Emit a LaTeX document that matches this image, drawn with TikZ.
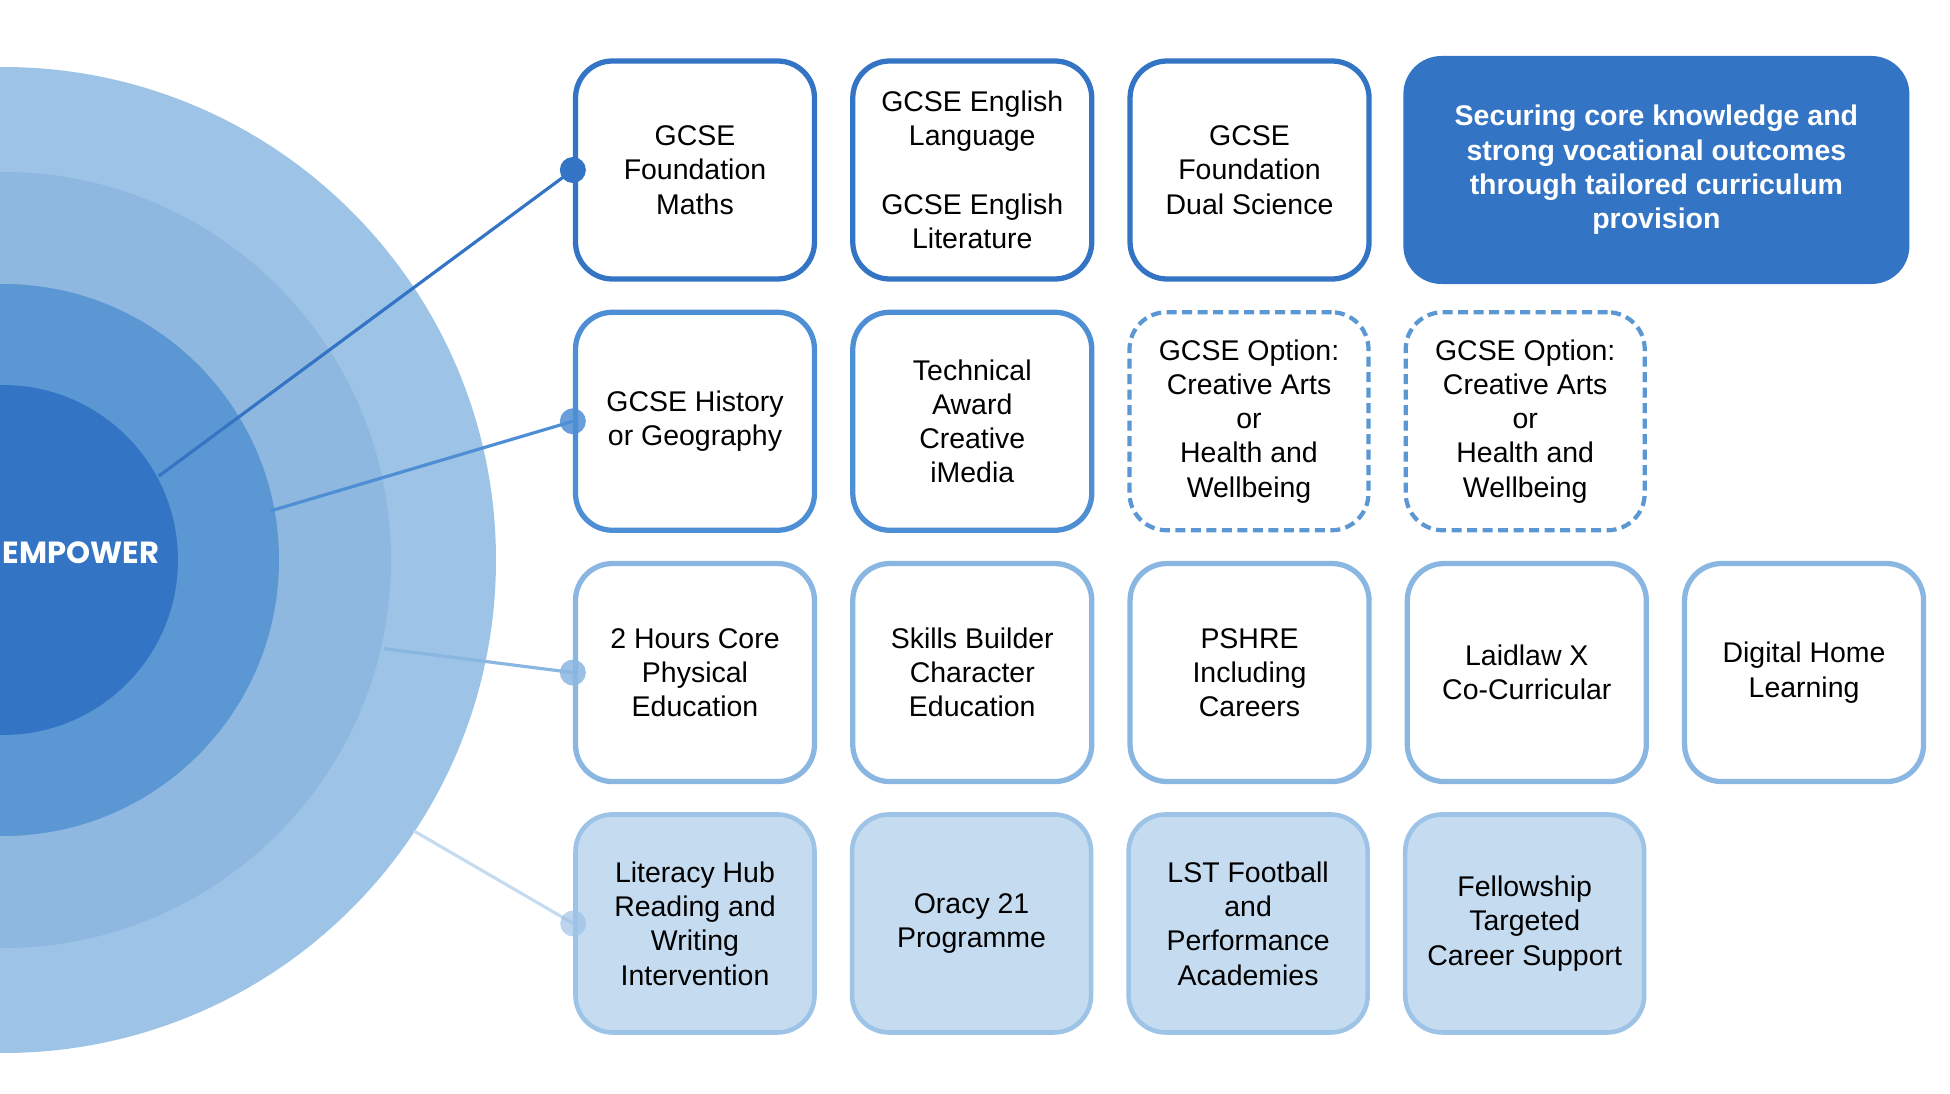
\documentclass[tikz,border=0pt]{standalone}
\usepackage{fontspec}
\setmainfont{Liberation Sans}
\newfontfamily\brandfont{Poppins}
\usetikzlibrary{positioning,calc}
\definecolor{deep}{HTML}{3374C4}
\definecolor{mid}{HTML}{5B97D3}
\definecolor{soft}{HTML}{8EB8DF}
\definecolor{pale}{HTML}{9DC3E6}
\definecolor{wash}{HTML}{C5DBF0}
\definecolor{rowtwo}{HTML}{4E8ED4}
\definecolor{rowthree}{HTML}{8AB6E2}

\begin{document}
\begin{tikzpicture}[font={\fontsize{8.1}{9.75}\selectfont},
  node distance=2.8mm and 3.3mm,
  tile/.style={draw, fill=white, rounded corners=3.7mm, line width=1.5pt,
    minimum width=23.9mm, minimum height=21.8mm, align=center, inner sep=1pt},
  core/.style={tile, draw=deep},
  option/.style={tile, draw=rowtwo},
  choice/.style={tile, draw=mid, line width=1.2pt, dash pattern=on 1mm off 0.55mm},
  wider/.style={tile, draw=rowthree},
  support/.style={tile, draw=pale, fill=wash, line width=1.3pt},
  goal/.style={fill=deep, text=white, rounded corners=3.8mm, minimum width=50.6mm,
    minimum height=22.8mm, align=center, font={\fontsize{8.1}{9.75}\selectfont\bfseries}},
  link/.style={line width=0.9pt}]
  \useasboundingbox (0,0) rectangle (19.5,-10.94);

  % target rings
  \coordinate (hub) at (0.03,-5.60);
  \fill[pale] (hub) circle (4.93);
  \fill[soft] (hub) circle (3.88);
  \fill[mid]  (hub) circle (2.76);
  \fill[deep] (hub) circle (1.75);
  \node[text=white, anchor=west, inner sep=0pt, font={\brandfont\bfseries\fontsize{8.7}{10}\selectfont}]
    (empower) at (0.02,-5.53) {EMPOWER};

  % row 1
  \node[core] (maths) at (6.95,-1.70) {GCSE\\Foundation\\Maths};
  \node[core, right=of maths]   (english) {GCSE English\\Language\\[9.75pt]GCSE English\\Literature};
  \node[core, right=of english] (science) {GCSE\\Foundation\\Dual Science};
  \node[goal, right=3.1mm of science] (aim) {Securing core knowledge and\\strong vocational outcomes\\through tailored curriculum\\provision};

  % row 2
  \node[option, below=of maths]  (history) {GCSE History\\or Geography};
  \node[option, right=of history] (imedia) {Technical\\Award\\Creative\\iMedia};
  \node[choice, right=of imedia]  (optone) {GCSE Option:\\Creative Arts\\or\\Health and\\Wellbeing};
  \node[choice, right=of optone]  (opttwo) {GCSE Option:\\Creative Arts\\or\\Health and\\Wellbeing};

  % row 3
  \node[wider, below=of history]  (pe)      {2 Hours Core\\Physical\\Education};
  \node[wider, right=of pe]       (skills)  {Skills Builder\\Character\\Education};
  \node[wider, right=of skills]   (pshre)   {PSHRE\\Including\\Careers};
  \node[wider, right=of pshre]    (laidlaw) {Laidlaw X\\Co-Curricular};
  \node[wider, right=of laidlaw]  (digital) {Digital Home\\Learning};

  % row 4
  \node[support, below=of pe]        (literacy) {Literacy Hub\\Reading and\\Writing\\Intervention};
  \node[support, right=of literacy]  (oracy)    {Oracy 21\\Programme};
  \node[support, right=of oracy]     (football) {LST Football\\and\\Performance\\Academies};
  \node[support, right=of football]  (fellow)   {Fellowship\\Targeted\\Career Support};

  % spokes from the rings
  \coordinate (r1) at ($(hub)+(28.3:1.77)$);
  \coordinate (r2) at ($(hub)+(10.4:2.72)$);
  \coordinate (r3) at ($(hub)+(-13.1:3.91)$);
  \coordinate (r4) at ($(hub)+(-33.4:4.92)$);
  \draw[link, deep]     (r1) -- (maths.west);
  \draw[link, rowtwo]   (r2) -- (history.west);
  \draw[link, rowthree] (r3) -- (pe.west);
  \draw[link, wash]     (r4) -- (literacy.west);
  \fill[deep] (maths.west) circle (1.3mm);
  \fill[rowtwo, opacity=0.85] (history.west) circle (1.3mm);
  \fill[rowthree, opacity=0.85] (pe.west) circle (1.3mm);
  \fill[pale, opacity=0.7] (literacy.west) circle (1.3mm);
\end{tikzpicture}
\end{document}
